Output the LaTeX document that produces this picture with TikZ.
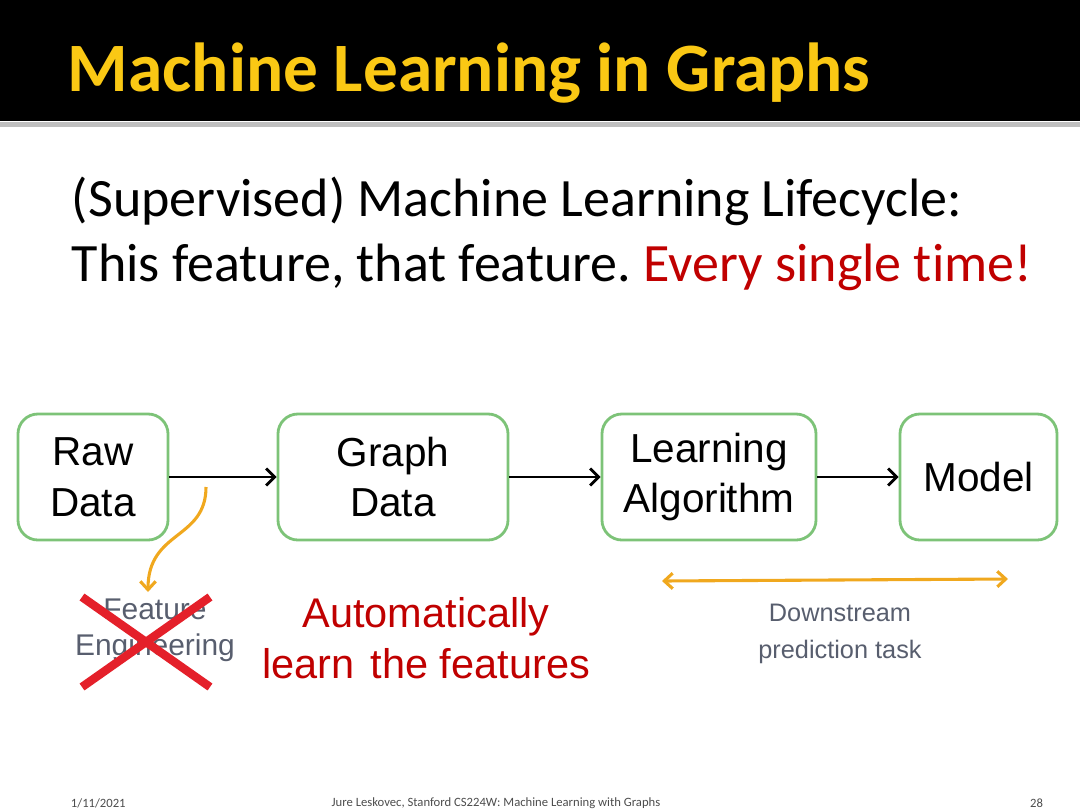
\documentclass[tikz,border=0pt]{standalone}
\usepackage{fontspec}
\setmainfont{Liberation Sans}
\newfontfamily\calfont[Ligatures=NoCommon]{Carlito}
\usetikzlibrary{arrows.meta, positioning}
\frenchspacing

\definecolor{titlegold}{RGB}{250,200,20}
\definecolor{boxgreen}{RGB}{125,195,120}
\definecolor{curveorange}{RGB}{240,168,30}
\definecolor{crossred}{RGB}{228,32,42}
\definecolor{darkred}{RGB}{192,0,0}
\definecolor{notegray}{RGB}{88,94,110}

\begin{document}
\begin{tikzpicture}[
  x=0.025cm, y=-0.025cm,
  stage/.style={rectangle, draw=boxgreen, line width=2pt, rounded corners=0.5cm,
                minimum height=3.15cm, align=center,
                font=\fontsize{28.8}{36}\selectfont},
  flow/.style={line width=2pt, -{Straight Barb[length=6pt, width=12pt]}},
  note/.style={align=center, text=notegray},
  hint/.style={line width=2.2pt, draw=curveorange},
]

\useasboundingbox (0,0) rectangle (1080,810);

% ---- slide frame ----
\fill[black] (0,0) rectangle (1080,121);
\fill[black!25] (0,122) rectangle (1080,127);

\node[anchor=base west, text=titlegold, font=\calfont\bfseries\fontsize{49.3}{60}\selectfont]
  (title) at (63,91) {Machine Learning in Graphs};

\node[anchor=north west, align=left, font=\calfont\fontsize{38.4}{46}\selectfont]
  (intro) at (67,172) {(Supervised) Machine Learning Lifecycle:\\
  This feature, that feature. \textcolor{darkred}{Every single time!}};

% ---- stages ----
\node[stage, minimum width=3.75cm]  (raw)   at (93,477)    {Raw\\Data};
\node[stage, minimum width=5.75cm]  (graph) at (393,477)   {Graph\\Data};
\node[stage, minimum width=5.35cm]  (learn) at (709,477)   {Learning\\Algorithm};
\node[stage, minimum width=3.925cm] (model) at (978.5,477) {Model};

\draw[flow] (raw)   -- (graph);
\draw[flow] (graph) -- (learn);
\draw[flow] (learn) -- (model);

% ---- notes ----
\node[note, font=\fontsize{21.3}{25.6}\selectfont] (feat) at (155,630) {Feature\\Engineering};

\coordinate (fe-start) at (206,487);
\coordinate (fe-end)   at (148,592);
\draw[hint, -{Straight Barb[length=6pt, width=11pt]}] (fe-start) .. controls (206,540) and (148,530) .. (fe-end);

\draw[crossred, line width=6pt] (82,597) -- (210,687);
\draw[crossred, line width=6pt] (210,597) -- (82,687);

\node[align=center, text=darkred, font=\fontsize{29.5}{36}\selectfont]
  (auto) at (426,638) {Automatically\\learn\hspace{0.12em} the features};

\coordinate (ds-left)  at (662,581);
\coordinate (ds-right) at (1008,579);
\draw[hint, {Straight Barb[length=6pt, width=11pt]}-{Straight Barb[length=6pt, width=11pt]}] (ds-left) -- (ds-right);

\node[note, font=\fontsize{18}{26}\selectfont] (down) at (840,634) {Downstream\\prediction task};

% ---- footer ----
\node[anchor=west, text=black!70, font=\calfont\fontsize{9}{10}\selectfont] (date) at (66,803) {1/11/2021};
\node[text=black!70, font=\calfont\fontsize{9}{10}\selectfont] (credit) at (496,803) {Jure Leskovec, Stanford CS224W: Machine Learning with Graphs};
\node[anchor=east, text=black!70, font=\calfont\fontsize{9}{10}\selectfont] (page) at (1048,803) {28};

\end{tikzpicture}
\end{document}
